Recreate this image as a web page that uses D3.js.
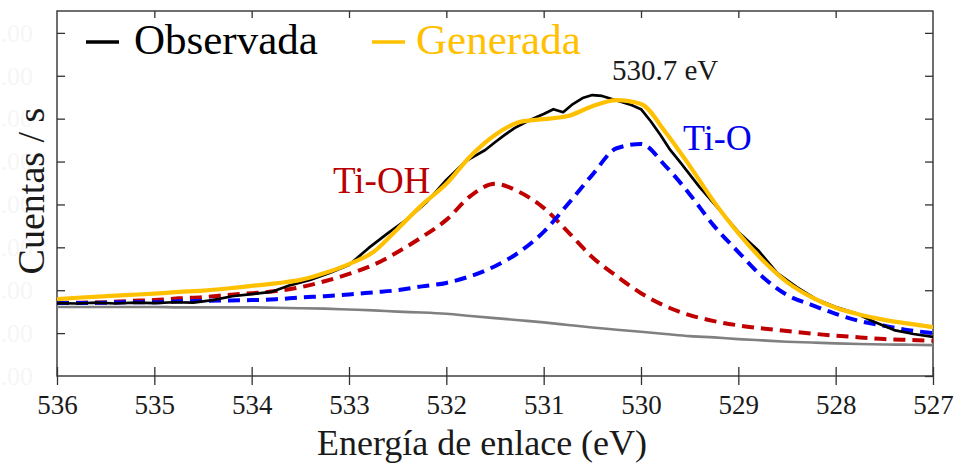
<!DOCTYPE html>
<html>
<head>
<meta charset="utf-8">
<script src="https://cdn.jsdelivr.net/npm/d3@7"></script>
<style>
  html, body { margin: 0; padding: 0; background: #fff; }
  svg { display: block; }
  svg text { font-family: "Times New Roman", "Liberation Serif", "DejaVu Serif", serif; }
</style>
</head>
<body>
<svg id="chart" width="961" height="468"></svg>
<script>
// ---- data -------------------------------------------------------------
// Binding energy ticks (eV), axis runs from high to low energy
const xTicks = [536, 535, 534, 533, 532, 531, 530, 529, 528, 527];
const yTicks = [0, 1, 2, 3, 4, 5, 6, 7, 8];
const yTickLabels = [".00", ".00", ".00", ".00", ".00", ".00", ".00", ".00", ".00"];

// Energy grid of the fitted curves (eV)
const fitEnergy = [536, 535.75, 535.5, 535.25, 535, 534.75, 534.5, 534.25, 534,
  533.75, 533.5, 533.25, 533, 532.75, 532.5, 532.25, 532, 531.75, 531.5, 531.25,
  531, 530.75, 530.5, 530.25, 530, 529.75, 529.5, 529.25, 529, 528.75, 528.5,
  528.25, 528, 527.75, 527.5, 527.25, 527];

// Shirley-type background
const background = [1.61, 1.61, 1.61, 1.61, 1.61, 1.60, 1.60, 1.60, 1.60, 1.59,
  1.58, 1.57, 1.55, 1.53, 1.50, 1.48, 1.45, 1.40, 1.35, 1.30, 1.25, 1.19, 1.13,
  1.08, 1.03, 0.98, 0.93, 0.90, 0.86, 0.83, 0.80, 0.78, 0.76, 0.745, 0.735, 0.73, 0.72];

// Ti-OH component (on top of background)
const tiOH = [1.70, 1.71, 1.72, 1.75, 1.77, 1.81, 1.84, 1.89, 1.93, 1.98, 2.07,
  2.21, 2.38, 2.59, 2.89, 3.24, 3.64, 4.20, 4.48, 4.29, 3.92, 3.36, 2.77, 2.33,
  1.93, 1.63, 1.42, 1.28, 1.18, 1.11, 1.05, 0.99, 0.94, 0.90, 0.86, 0.84, 0.82];

// Ti-O component (on top of background)
const tiO = [1.70, 1.70, 1.71, 1.72, 1.72, 1.74, 1.75, 1.76, 1.77, 1.79, 1.83,
  1.86, 1.90, 1.95, 2.00, 2.09, 2.17, 2.33, 2.56, 2.89, 3.36, 4.01, 4.69, 5.31,
  5.41, 4.90, 4.24, 3.50, 2.89, 2.31, 1.89, 1.66, 1.45, 1.28, 1.17, 1.07, 1.00];

// Generated envelope
const generated = [1.79, 1.83, 1.86, 1.89, 1.92, 1.96, 1.99, 2.04, 2.10, 2.16,
  2.24, 2.40, 2.61, 2.89, 3.43, 3.99, 4.48, 5.13, 5.62, 5.92, 5.99, 6.06, 6.29,
  6.43, 6.34, 5.69, 4.90, 4.06, 3.33, 2.70, 2.19, 1.84, 1.59, 1.43, 1.31, 1.22, 1.14];

// Observed spectrum
const obsEnergy = [536, 535.8, 535.6, 535.4, 535.2, 535, 534.8, 534.6, 534.4,
  534.2, 534, 533.8, 533.6, 533.4, 533.2, 533, 532.8, 532.6, 532.4, 532.2, 532,
  531.8, 531.6, 531.5, 531.4, 531.3, 531.2, 531.1, 531, 530.9, 530.8, 530.7,
  530.6, 530.5, 530.4, 530.3, 530.2, 530.1, 530, 529.9, 529.8, 529.7, 529.6,
  529.4, 529.2, 529, 528.8, 528.6, 528.4, 528.2, 528, 527.8, 527.6, 527.4, 527.2, 527];
const observed = [1.70, 1.69, 1.71, 1.69, 1.71, 1.70, 1.72, 1.71, 1.77, 1.86,
  1.91, 1.96, 2.12, 2.24, 2.40, 2.59, 2.98, 3.33, 3.66, 4.06, 4.57, 5.01, 5.27,
  5.45, 5.62, 5.78, 5.90, 6.01, 6.11, 6.22, 6.15, 6.34, 6.48, 6.55, 6.53, 6.46,
  6.39, 6.32, 6.22, 5.94, 5.62, 5.27, 4.99,
  4.41, 3.89, 3.36, 2.94, 2.40, 2.07, 1.79, 1.61, 1.47, 1.26, 1.07, 0.98, 0.91];

const peakLabel = "530.7 eV";

// ---- layout -----------------------------------------------------------
const svg = d3.select("#chart");
const plot = { left: 57, right: 933, top: 11, bottom: 376 };

const x = d3.scaleLinear().domain([536, 527]).range([plot.left, plot.right]);
const y = d3.scaleLinear().domain([0, 8.51]).range([plot.bottom, plot.top]);

svg.append("defs").append("clipPath").attr("id", "plotClip")
  .append("rect")
  .attr("x", plot.left).attr("y", plot.top)
  .attr("width", plot.right - plot.left).attr("height", plot.bottom - plot.top);

// ---- axes -------------------------------------------------------------
const axisColor = "#333";

// bottom: labels + ticks below the line
const gBottom = svg.append("g")
  .attr("transform", `translate(0,${plot.bottom})`)
  .call(d3.axisBottom(x).tickValues(xTicks).tickFormat(d3.format("d"))
    .tickSizeInner(9).tickSizeOuter(0).tickPadding(10));
// bottom: tick halves above the line
svg.append("g")
  .attr("transform", `translate(0,${plot.bottom})`)
  .call(d3.axisBottom(x).tickValues(xTicks).tickFormat("")
    .tickSizeInner(-9).tickSizeOuter(0));
// top: inward ticks
svg.append("g")
  .attr("transform", `translate(0,${plot.top})`)
  .call(d3.axisTop(x).tickValues(xTicks.slice(1, -1)).tickFormat("")
    .tickSizeInner(-7).tickSizeOuter(0));
// left: inward ticks, faint labels
const gLeft = svg.append("g")
  .attr("transform", `translate(${plot.left},0)`)
  .call(d3.axisLeft(y).tickValues(yTicks).tickFormat((d, i) => yTickLabels[i])
    .tickSizeInner(-8).tickSizeOuter(0).tickPadding(32));
// right: inward ticks
svg.append("g")
  .attr("transform", `translate(${plot.right},0)`)
  .call(d3.axisRight(y).tickValues(yTicks).tickFormat("")
    .tickSizeInner(-8).tickSizeOuter(0));

svg.selectAll(".domain").remove();
svg.selectAll("g").attr("font-family", null);
svg.selectAll(".tick line").attr("stroke", axisColor).attr("stroke-width", 1.3);

gBottom.selectAll(".tick text")
  .attr("font-size", 27).attr("fill", "#1a1a1a");
gLeft.selectAll(".tick text")
  .attr("font-size", 26).attr("fill", "#f6f6f6")
  .attr("x", -24).attr("text-anchor", "end");
gLeft.selectAll(".tick line").filter(d => d === 0).remove();

// frame
svg.append("rect")
  .attr("x", plot.left).attr("y", plot.top)
  .attr("width", plot.right - plot.left).attr("height", plot.bottom - plot.top)
  .attr("fill", "none").attr("stroke", axisColor).attr("stroke-width", 1.4);

// ---- curves -----------------------------------------------------------
const fitLine = d3.line()
  .x(d => x(d[0])).y(d => y(d[1]))
  .curve(d3.curveMonotoneX);
const obsLine = d3.line()
  .x(d => x(d[0])).y(d => y(d[1]))
  .curve(d3.curveLinear);

const zipFit = vals => fitEnergy.map((e, i) => [e, vals[i]]);
const curves = svg.append("g").attr("clip-path", "url(#plotClip)");

curves.append("path").attr("d", fitLine(zipFit(background)))
  .attr("fill", "none").attr("stroke", "#808080").attr("stroke-width", 2.6);
curves.append("path").attr("d", fitLine(zipFit(tiOH)))
  .attr("fill", "none").attr("stroke", "#c00000").attr("stroke-width", 4)
  .attr("stroke-dasharray", "12,7");
curves.append("path").attr("d", fitLine(zipFit(tiO)))
  .attr("fill", "none").attr("stroke", "#0000ff").attr("stroke-width", 4)
  .attr("stroke-dasharray", "12,7");
curves.append("path").attr("d", obsLine(obsEnergy.map((e, i) => [e, observed[i]])))
  .attr("fill", "none").attr("stroke", "#000").attr("stroke-width", 2.7)
  .attr("stroke-linejoin", "round");
curves.append("path").attr("d", fitLine(zipFit(generated)))
  .attr("fill", "none").attr("stroke", "#ffc000").attr("stroke-width", 4.2);

// ---- labels -----------------------------------------------------------
svg.append("text")
  .attr("x", 482).attr("y", 455).attr("text-anchor", "middle")
  .attr("font-size", 36).attr("fill", "#1a1a1a")
  .text("Energía de enlace (eV)");

svg.append("text")
  .attr("transform", "translate(44,191) rotate(-90)")
  .attr("text-anchor", "middle")
  .attr("font-size", 38).attr("fill", "#1a1a1a")
  .text("Cuentas / s");

// legend
const legend = [
  { name: "Observada", color: "#000", lineX: 86, textX: 134 },
  { name: "Generada", color: "#ffc000", lineX: 372, textX: 416 }
];
const lg = svg.append("g");
legend.forEach(d => {
  lg.append("line")
    .attr("x1", d.lineX).attr("x2", d.lineX + 33)
    .attr("y1", 42).attr("y2", 42)
    .attr("stroke", d.color).attr("stroke-width", 3.5);
  lg.append("text")
    .attr("x", d.textX).attr("y", 54)
    .attr("font-size", 43).attr("fill", d.color)
    .text(d.name);
});

// component / peak annotations
svg.append("text")
  .attr("x", 612).attr("y", 80)
  .attr("font-size", 29).attr("fill", "#1a1a1a")
  .text(peakLabel);
svg.append("text")
  .attr("x", 683).attr("y", 150)
  .attr("font-size", 36).attr("fill", "#0000ee")
  .text("Ti-O");
svg.append("text")
  .attr("x", 333).attr("y", 193)
  .attr("font-size", 37).attr("fill", "#b80000")
  .text("Ti-OH");
</script>
</body>
</html>
